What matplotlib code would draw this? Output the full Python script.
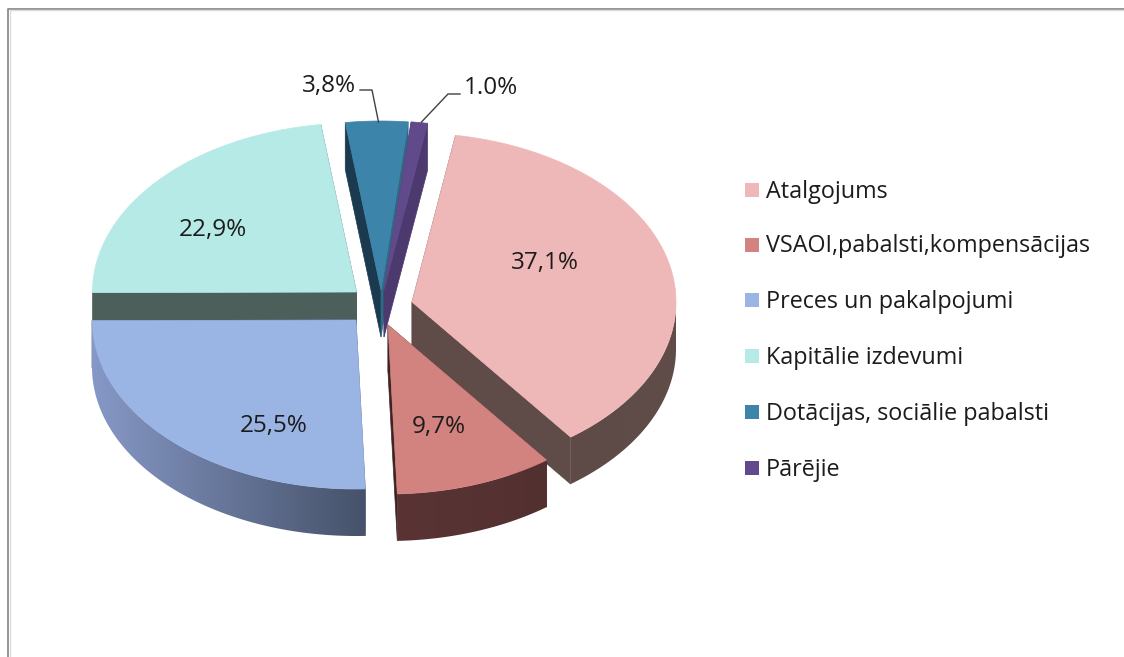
import numpy as np
import matplotlib
matplotlib.use("Agg")
import matplotlib.pyplot as plt
from matplotlib.colors import LinearSegmentedColormap
from matplotlib.patches import Polygon, Rectangle

plt.rcParams["font.family"] = ["Open Sans", "DejaVu Sans"]

# chart values, clockwise from the first slice
categories = ["Atalgojums", "VSAOI,pabalsti,kompensācijas", "Preces un pakalpojumi",
              "Kapitālie izdevumi", "Dotācijas, sociālie pabalsti", "Pārējie"]
values = [37.1, 9.7, 25.5, 22.9, 3.8, 1.0]
value_labels = ["37,1%", "9,7%", "25,5%", "22,9%", "3,8%", "1.0%"]

top_colors = ["#efb8b8", "#d28380", "#9ab4e4", "#b6eae6", "#3d84aa", "#604a8c"]
wall_colors = ["#5f4b48", "#3f2322", "#46526a", "#4c5f5b", "#1b3a4f", "#4c3a6e"]
end_wall_colors = ["#5f4b48", "#3f2322", "#46526a", "#4c5f5b", "#2f6b85", "#4c3a6e"]
rim_left = ["#5e4a47", "#5a3435", "#8698c6", "#4c5f5b", "#1b3a4f", "#4c3a6e"]
rim_right = ["#604c49", "#533030", "#46526a", "#4c5f5b", "#1b3a4f", "#4c3a6e"]

# tip of each exploded slice, in pixels
tips = [(412, 302), (388, 325), (356, 320), (356.5, 292), (381, 290), (384, 290)]
label_pos = [(545, 263), (439, 427), (274, 426), (213, 230), (329, 86), (491, 88)]

RX, RY = 264, 169
DEPTH = 47
START = 9.5  # degrees clockwise from the top


def edge_points(tip, a0, a1, n=120):
    ang = np.radians(np.linspace(a0, a1, n))
    return np.column_stack([tip[0] + RX * np.sin(ang), tip[1] - RY * np.cos(ang)])


def cut_wall(tip, angle):
    p = edge_points(tip, angle, angle, 1)[0]
    return [tip, tuple(p), (p[0], p[1] + DEPTH), (tip[0], tip[1] + DEPTH)]


fig = plt.figure(figsize=(11.24, 6.57), dpi=100)
ax = fig.add_axes([0, 0, 1, 1])
ax.set_xlim(0, 1124)
ax.set_ylim(657, 0)
ax.axis("off")

# frame of the pasted chart, open to the right and at the bottom
ax.plot([8, 8, 1124], [657, 8.5, 8.5], color="#8c8c8c", lw=1.3, zorder=1)
ax.plot([9.5, 9.5, 1124], [657, 10, 10], color="#dcdcdc", lw=1, zorder=1)

fractions = np.array(values) / sum(values) * 360
ends = START + np.cumsum(fractions)
starts = ends - fractions

# back slices first so the front ones cover them
order = [3, 4, 5, 0, 1, 2]
for z, i in enumerate(order):
    base = 10 + z * 5
    tip = tips[i]
    a0, a1 = starts[i], ends[i]

    for a, wall in ((a0, wall_colors[i]), (a1, end_wall_colors[i])):
        ax.add_patch(Polygon(cut_wall(tip, a), closed=True, fc=wall, ec=wall, lw=0.5,
                             zorder=base))

    # outer rim, only the part facing the viewer
    r0, r1 = max(a0, 90), min(a1, 270)
    if r1 > r0:
        pts = edge_points(tip, r0, r1)
        low = pts + [0, DEPTH]
        rim = Polygon(np.vstack([pts, low[::-1]]), closed=True, fc="none", ec="none",
                      zorder=base + 1)
        ax.add_patch(rim)
        cmap = LinearSegmentedColormap.from_list("rim", [rim_left[i], rim_right[i]])
        x0, x1 = pts[:, 0].min(), pts[:, 0].max()
        y0, y1 = pts[:, 1].min(), low[:, 1].max()
        im = ax.imshow(np.linspace(0, 1, 256).reshape(1, -1), cmap=cmap, aspect="auto",
                       extent=[x0, x1, y1, y0], zorder=base + 1)
        im.set_clip_path(rim)
        ax.set_xlim(0, 1124)
        ax.set_ylim(657, 0)

    top = np.vstack([[tip], edge_points(tip, a0, a1)])
    ax.add_patch(Polygon(top, closed=True, fc=top_colors[i], ec=top_colors[i], lw=0.5,
                         zorder=base + 2))

for text, pos in zip(value_labels, label_pos):
    ax.text(pos[0], pos[1], text, fontsize=17.5, color="#1c1c1c", ha="center",
            va="center", zorder=60)

# leader lines of the two small slices
ax.plot([360, 372, 378.5], [90, 90, 122], color="#404040", lw=1, zorder=61)
ax.plot([460, 448, 421.5], [94, 94, 122], color="#404040", lw=1, zorder=61)

# legend
legend_y = [189.5, 244.5, 299.5, 356, 411.5, 467.5]
for name, color, y in zip(categories, top_colors, legend_y):
    ax.add_patch(Rectangle((745, y - 7), 14, 14, fc=color, ec="none", zorder=60))
    ax.text(766, y + 2, name, fontsize=16.8, color="#1c1c1c", ha="left", va="center",
            zorder=60)

fig.savefig("out.png", dpi=100)
